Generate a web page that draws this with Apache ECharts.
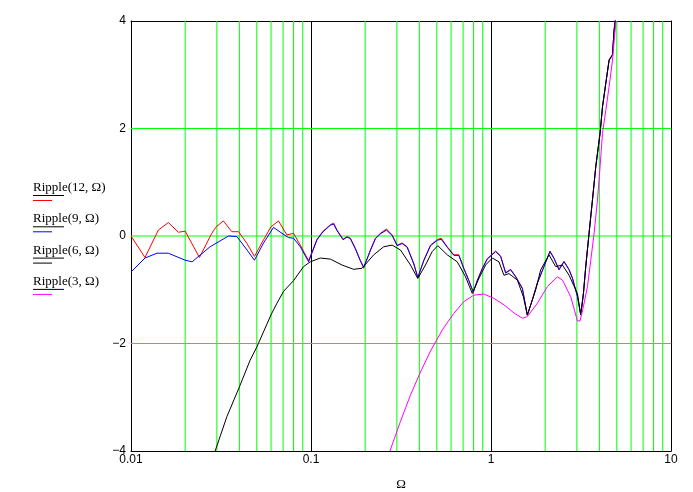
<!DOCTYPE html>
<html>
<head>
<meta charset="utf-8">
<script src="https://cdn.jsdelivr.net/npm/echarts@6/dist/echarts.min.js"></script>
<style>html,body{margin:0;padding:0;background:#fff}#c{width:693px;height:492px}</style>
</head>
<body>
<div id="c"></div>
<script>
// Tick / grid positions
const xMajorTicks = [0.01, 0.1, 1, 10];
const xMinorTicks = [0.02,0.03,0.04,0.05,0.06,0.07,0.08,0.09,0.2,0.3,0.4,0.5,0.6,0.7,0.8,0.9,2,3,4,5,6,7,8,9];
const yTicks = [-4, -2, 0, 2, 4];
const yGridLines = [-2, 0, 2];
const seriesNames = ['Ripple(12, \u03A9)', 'Ripple(9, \u03A9)', 'Ripple(6, \u03A9)', 'Ripple(3, \u03A9)'];

// Ripple(12, Ω)
const ripple12 = [[0.01,0.0],[0.01196,-0.40],[0.01419,0.11],[0.01613,0.25],[0.01833,0.07],[0.0200,0.09],[0.0240,-0.40],[0.0281,0.05],[0.0297,0.17],[0.0326,0.28],[0.0363,0.08],[0.0396,0.08],[0.0441,-0.14],[0.0485,-0.38],[0.0545,-0.07],[0.0599,0.17],[0.0660,0.28],[0.0735,0.02],[0.0800,0.05],[0.0872,-0.17],[0.0970,-0.46],[0.1080,-0.06],[0.1167,0.09],[0.1281,0.21],[0.1336,0.24],[0.1395,0.11],[0.1507,-0.06],[0.1586,-0.01],[0.1655,-0.04],[0.1764,-0.23],[0.1881,-0.46],[0.1962,-0.60],[0.2138,-0.26],[0.2280,-0.04],[0.2430,0.05],[0.2624,0.13],[0.2823,0.02],[0.3010,-0.17],[0.3209,-0.13],[0.3421,-0.20],[0.3724,-0.51],[0.3920,-0.78],[0.4233,-0.45],[0.4612,-0.17],[0.5025,-0.07],[0.5289,-0.04],[0.5713,-0.20],[0.6216,-0.35],[0.6627,-0.35],[0.7067,-0.60],[0.7534,-0.83],[0.7971,-1.05],[0.8390,-0.83],[0.8945,-0.60],[0.9537,-0.42],[1.061,-0.28],[1.131,-0.37],[1.206,-0.68],[1.286,-0.62],[1.371,-0.75],[1.494,-0.97],[1.592,-1.48],[1.698,-1.18],[1.810,-0.87],[1.970,-0.56],[2.127,-0.28],[2.239,-0.41],[2.387,-0.62],[2.545,-0.47],[2.714,-0.62],[2.835,-0.78],[3.022,-1.12],[3.152,-1.47],[3.263,-1.06],[3.361,-0.56],[3.506,0.06],[3.662,0.68],[3.821,1.30],[4.036,1.92],[4.163,2.41],[4.343,2.85],[4.530,3.28],[4.732,3.38],[4.830,3.84],[4.918,4.05]];

// Ripple(9, Ω)
const ripple9 = [[0.01,-0.67],[0.01196,-0.41],[0.01395,-0.32],[0.0161,-0.32],[0.0200,-0.45],[0.02185,-0.48],[0.02752,-0.20],[0.0348,0.0],[0.03875,-0.01],[0.0441,-0.26],[0.0485,-0.45],[0.0545,-0.13],[0.0619,0.16],[0.0690,0.05],[0.0750,-0.03],[0.0800,-0.04],[0.0872,-0.20],[0.0970,-0.48],[0.1080,-0.07],[0.1167,0.08],[0.1281,0.20],[0.1336,0.22],[0.1395,0.10],[0.1507,-0.07],[0.1586,-0.02],[0.1655,-0.05],[0.1764,-0.24],[0.1881,-0.46],[0.1962,-0.58],[0.2138,-0.27],[0.2280,-0.05],[0.2430,0.04],[0.2624,0.11],[0.2823,0.01],[0.3010,-0.18],[0.3209,-0.14],[0.3421,-0.21],[0.3724,-0.52],[0.3920,-0.77],[0.4233,-0.46],[0.4612,-0.18],[0.5025,-0.08],[0.5289,-0.06],[0.5713,-0.21],[0.6216,-0.36],[0.6627,-0.36],[0.7067,-0.61],[0.7534,-0.83],[0.7971,-1.04],[0.8390,-0.83],[0.8945,-0.61],[0.9537,-0.43],[1.061,-0.29],[1.131,-0.38],[1.206,-0.69],[1.286,-0.63],[1.371,-0.76],[1.494,-0.98],[1.592,-1.47],[1.698,-1.19],[1.810,-0.88],[1.970,-0.57],[2.127,-0.29],[2.239,-0.42],[2.387,-0.63],[2.545,-0.48],[2.714,-0.63],[2.835,-0.79],[3.022,-1.13],[3.152,-1.47],[3.263,-1.07],[3.361,-0.57],[3.506,0.05],[3.662,0.67],[3.821,1.29],[4.036,1.91],[4.163,2.40],[4.343,2.84],[4.530,3.27],[4.732,3.37],[4.830,3.83],[4.918,4.05]];

// Ripple(6, Ω)
const ripple6 = [[0.02934,-4.0],[0.0341,-3.36],[0.0401,-2.80],[0.0459,-2.31],[0.0501,-2.06],[0.0599,-1.47],[0.0647,-1.25],[0.0704,-1.03],[0.0800,-0.83],[0.0909,-0.57],[0.0991,-0.48],[0.1127,-0.41],[0.1281,-0.43],[0.1488,-0.54],[0.1726,-0.62],[0.1922,-0.60],[0.2231,-0.35],[0.2535,-0.20],[0.2823,-0.17],[0.3140,-0.26],[0.3569,-0.54],[0.3920,-0.79],[0.4326,-0.54],[0.4713,-0.29],[0.5063,-0.18],[0.5713,-0.35],[0.6494,-0.48],[0.7223,-0.76],[0.7871,-1.07],[0.8563,-0.79],[0.9333,-0.54],[1.017,-0.41],[1.107,-0.48],[1.180,-0.73],[1.258,-0.70],[1.401,-0.82],[1.513,-1.13],[1.592,-1.47],[1.771,-1.00],[1.888,-0.63],[2.100,-0.35],[2.288,-0.57],[2.493,-0.54],[2.714,-0.73],[3.022,-1.07],[3.152,-1.47],[3.263,-1.07],[3.361,-0.57],[3.506,0.05],[3.662,0.67],[3.821,1.29],[4.036,1.91],[4.163,2.40],[4.343,2.84],[4.530,3.27],[4.732,3.37],[4.830,3.83],[4.918,4.05]];

// Ripple(3, Ω)
const ripple3 = [[0.2745,-4.0],[0.3140,-3.45],[0.3569,-2.96],[0.4057,-2.53],[0.4612,-2.14],[0.5358,-1.75],[0.6216,-1.44],[0.7067,-1.22],[0.8033,-1.10],[0.9130,-1.08],[1.038,-1.16],[1.180,-1.28],[1.341,-1.43],[1.494,-1.53],[1.592,-1.50],[1.810,-1.25],[2.058,-0.94],[2.339,-0.76],[2.494,-0.82],[2.773,-1.13],[3.022,-1.58],[3.124,-1.58],[3.263,-1.31],[3.435,-0.94],[3.584,-0.45],[3.739,0.05],[3.905,0.67],[4.036,1.29],[4.163,1.91],[4.343,2.34],[4.530,2.78],[4.732,3.27],[4.874,3.77],[4.955,4.0]];

const colors = ['#ff0000', '#0000ff', '#000000', '#ff00ff'];
const datasets = [ripple12, ripple9, ripple6, ripple3];
const gridGreen = '#00ff00';

const chart = echarts.init(document.getElementById('c'), null, {renderer: 'canvas'});

const series = [];
// minor vertical grid lines (green), drawn through the axes
xMinorTicks.forEach(v => {
  series.push({
    type: 'line', data: [[v, yTicks[0]], [v, yTicks[yTicks.length - 1]]],
    showSymbol: false, symbol: 'none', silent: true, z: 1,
    lineStyle: {color: gridGreen, width: 1}, emphasis: {disabled: true}
  });
});
// horizontal grid lines (green)
yGridLines.forEach(v => {
  series.push({
    type: 'line', data: [[xMajorTicks[0], v], [xMajorTicks[xMajorTicks.length - 1], v]],
    showSymbol: false, symbol: 'none', silent: true, z: 1,
    lineStyle: {color: gridGreen, width: 1}, emphasis: {disabled: true}
  });
});
datasets.forEach((d, i) => {
  series.push({
    name: seriesNames[i],
    type: 'line',
    data: d,
    showSymbol: false,
    symbol: 'none',
    smooth: false,
    clip: true,
    z: 3 + i,
    lineStyle: {color: colors[i], width: 1},
    emphasis: {disabled: true}
  });
});

const legendGraphics = [];
const legendTop = 189, legendStep = 31.3;
seriesNames.forEach((n, i) => {
  const y = legendTop + i * legendStep;
  legendGraphics.push({
    type: 'text', left: 33, top: y - 8,
    style: {text: n, fill: '#000', font: '13px "Liberation Serif"'}
  });
  legendGraphics.push({
    type: 'line', shape: {x1: 33, y1: y + 6.5, x2: 64, y2: y + 6.5},
    style: {stroke: '#000', lineWidth: 1}
  });
  legendGraphics.push({
    type: 'line', shape: {x1: 33, y1: y + 11.5, x2: 52, y2: y + 11.5},
    style: {stroke: colors[i], lineWidth: 1}
  });
});

chart.setOption({
  animation: false,
  backgroundColor: '#ffffff',
  grid: {left: 131, right: 22, top: 21, bottom: 41, containLabel: false, outerBoundsMode: 'none'},
  xAxis: [{
    type: 'log', logBase: 10, min: xMajorTicks[0], max: xMajorTicks[xMajorTicks.length - 1],
    position: 'bottom',
    axisLine: {show: true, onZero: false, lineStyle: {color: '#000', width: 1}},
    axisTick: {show: false},
    axisLabel: {show: true, color: '#000', fontFamily: 'Liberation Sans', fontSize: 12, margin: 3, showMinLabel: true, showMaxLabel: true},
    splitLine: {show: true, lineStyle: {color: '#000', width: 1}},
    name: '\u03A9', nameLocation: 'middle', nameGap: 27,
    nameTextStyle: {color: '#000', fontFamily: 'Liberation Serif', fontSize: 13}
  }, {
    type: 'log', logBase: 10, min: xMajorTicks[0], max: xMajorTicks[xMajorTicks.length - 1],
    position: 'top',
    axisLine: {show: true, onZero: false, lineStyle: {color: '#000', width: 1}},
    axisTick: {show: false}, axisLabel: {show: false}, splitLine: {show: false}
  }],
  yAxis: [{
    type: 'value', min: yTicks[0], max: yTicks[yTicks.length - 1], interval: 2,
    position: 'left',
    axisLine: {show: true, onZero: false, lineStyle: {color: '#000', width: 1}},
    axisTick: {show: false},
    axisLabel: {color: '#000', fontFamily: 'Liberation Sans', fontSize: 12, margin: 5,
      formatter: v => (v < 0 ? '\u2212' + (-v) : String(v))},
    splitLine: {show: false}
  }, {
    type: 'value', min: yTicks[0], max: yTicks[yTicks.length - 1], interval: 2,
    position: 'right',
    axisLine: {show: true, onZero: false, lineStyle: {color: '#000', width: 1}},
    axisTick: {show: false}, axisLabel: {show: false}, splitLine: {show: false}
  }],
  series: series,
  graphic: legendGraphics
});
</script>
</body>
</html>
